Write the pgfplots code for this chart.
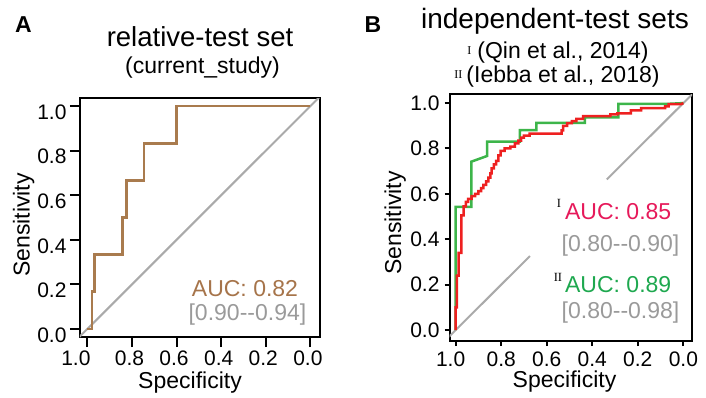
\documentclass[border=0pt]{standalone}
\usepackage{fontspec}
\setmainfont{Liberation Sans}
\newfontfamily\serif{Liberation Serif}
\usepackage{pgfplots}
\pgfplotsset{compat=1.18}
\definecolor{brn}{HTML}{A97B4E}
\definecolor{brntxt}{HTML}{A6744A}
\definecolor{rocred}{HTML}{EE2020}
\definecolor{redtxt}{HTML}{E6195A}
\definecolor{rocgreen}{HTML}{3DB54A}
\definecolor{greentxt}{HTML}{1EA84F}
\definecolor{citxt}{HTML}{9A9A9A}
\definecolor{diag}{HTML}{AAAAAA}
\newcommand{\fs}[1]{\fontsize{#1bp}{#1bp}\selectfont}
\begin{document}
\begin{tikzpicture}
\useasboundingbox (0,0) rectangle (706bp,-398bp);
\pgfplotsset{
  rocaxis/.style={
    scale only axis, x dir=reverse,
    axis line style={line width=2bp, black},
    tick align=outside,
    major tick style={line width=2bp, black},
    xtick={0,0.2,0.4,0.6,0.8,1},
    ytick={0,0.2,0.4,0.6,0.8,1},
    yticklabels={0.0,0.2,0.4,0.6,0.8,1.0},
    xtick pos=bottom, ytick pos=left,
    tick label style={font=\fs{21}},
  }
}
% Panel A
\begin{axis}[rocaxis, at={(80bp,-98bp)}, anchor=north west,
  width=240bp, height=239bp,
  xmin=-0.043, xmax=1.033, ymin=-0.036, ymax=1.036,
  major tick length=10bp,
  xticklabels={0.0,0.2,0.4,0.6,0.8,\hspace*{-18bp}1.0},
  xticklabel style={inner sep=0pt, xshift=-2.5bp, yshift=-3.5bp},
  yticklabel style={yshift=-6bp},
]
\addplot[diag, line width=2bp] coordinates {(1.1,-0.1) (-0.1,1.1)};
\addplot[brn, line width=2.8bp] coordinates {
(1,0) (0.979,0) (0.979,0.167) (0.969,0.167) (0.969,0.333) (0.841,0.333)
(0.841,0.5) (0.826,0.5) (0.826,0.667) (0.746,0.667) (0.746,0.833)
(0.600,0.833) (0.600,1) (0,1)};
\node[anchor=base west, inner sep=0pt, text=brntxt, font=\fs{23}] at (axis cs:0.532,0.145) {AUC: 0.82};
\node[anchor=base west, inner sep=0pt, text=citxt, font=\fs{23}] at (axis cs:0.547,0.037) {[0.90-{}-0.94]};
\end{axis}
% Panel B
\begin{axis}[rocaxis, at={(449.5bp,-94bp)}, anchor=north west,
  width=242.5bp, height=247bp,
  xmin=-0.038, xmax=1.027, ymin=-0.048, ymax=1.04,
  major tick length=5bp,
  xticklabels={0.0,0.2,0.4,0.6,0.8,\hspace*{-10bp}1.0},
  xticklabel style={inner sep=0pt, yshift=-6bp},
  yticklabel style={xshift=-1.5bp},
]
\addplot[diag, line width=2bp] coordinates {(1.1,-0.1) (0.674,0.326)};
\addplot[diag, line width=2bp] coordinates {(0.336,0.664) (-0.1,1.1)};
\addplot[rocgreen, line width=2.5bp] coordinates {
(1,0) (1,0.543) (0.931,0.543) (0.931,0.742) (0.862,0.767) (0.862,0.830)
(0.718,0.830) (0.718,0.881) (0.645,0.881) (0.645,0.913) (0.432,0.913)
(0.432,0.937) (0.285,0.937) (0.285,0.996) (0.079,0.996) (0,1)};
\addplot[rocred, line width=2.5bp] coordinates {
(1,0) (1,0.10) (0.995,0.10) (0.995,0.24) (0.987,0.24) (0.987,0.34)
(0.975,0.34) (0.975,0.505) (0.965,0.505) (0.965,0.545) (0.955,0.545)
(0.955,0.565) (0.945,0.565) (0.945,0.578) (0.93,0.578) (0.93,0.59)
(0.915,0.59) (0.915,0.60) (0.9,0.60) (0.9,0.612) (0.888,0.612)
(0.888,0.625) (0.878,0.625) (0.878,0.64) (0.866,0.64) (0.866,0.655)
(0.856,0.655) (0.856,0.672) (0.848,0.672) (0.848,0.69) (0.842,0.69)
(0.842,0.712) (0.832,0.712) (0.832,0.73) (0.822,0.73) (0.822,0.745)
(0.812,0.745) (0.812,0.77) (0.802,0.77) (0.802,0.79) (0.785,0.79)
(0.785,0.80) (0.76,0.80) (0.76,0.808) (0.74,0.808) (0.74,0.822)
(0.725,0.822) (0.725,0.835) (0.712,0.835) (0.712,0.848) (0.70,0.848)
(0.70,0.857) (0.675,0.857) (0.675,0.866) (0.535,0.866) (0.535,0.88)
(0.528,0.88) (0.528,0.90) (0.51,0.90) (0.51,0.912) (0.49,0.912)
(0.49,0.92) (0.47,0.92) (0.47,0.93) (0.44,0.93) (0.44,0.942)
(0.32,0.942) (0.32,0.95) (0.29,0.95) (0.29,0.955) (0.23,0.955)
(0.23,0.968) (0.185,0.968) (0.185,0.978) (0.08,0.978) (0.08,0.985)
(0.065,0.985) (0.065,0.995) (0.01,0.995) (0,1)};
\node[anchor=base west, inner sep=0pt, text=redtxt, font=\fs{23}] at (axis cs:0.520,0.488)
  {\llap{\raisebox{11.5bp}{\color{black}\serif\fs{12.5}I}\hspace{4bp}}AUC: 0.85};
\node[anchor=base west, inner sep=0pt, text=citxt, font=\fs{23}] at (axis cs:0.535,0.345) {[0.80-{}-0.90]};
\node[anchor=base west, inner sep=0pt, text=greentxt, font=\fs{23}] at (axis cs:0.520,0.164)
  {\llap{\raisebox{11.5bp}{\color{black}\serif\fs{12.5}II}\hspace{3bp}}AUC: 0.89};
\node[anchor=base west, inner sep=0pt, text=citxt, font=\fs{23}] at (axis cs:0.535,0.052) {[0.80-{}-0.98]};
\end{axis}
% Titles and labels
\node[anchor=base west, inner sep=0pt, font=\bfseries\fs{23}] at (15bp,-32bp) {A};
\node[anchor=base west, inner sep=0pt, font=\bfseries\fs{23}] at (364.5bp,-32bp) {B};
\node[anchor=base, inner sep=0pt, font=\fs{27.5}] at (200bp,-46.5bp) {relative-test set};
\node[anchor=base, inner sep=0pt, font=\fs{23}] at (202.5bp,-73.5bp) {(current\_study)};
\node[anchor=base, inner sep=0pt, font=\fs{28}] at (555bp,-28bp) {independent-test sets};
\node[anchor=base, inner sep=0pt, font=\fs{23}] at (558bp,-58.5bp) {\raisebox{4bp}{\serif\fs{12}I}\hspace{6bp}(Qin et al., 2014)};
\node[anchor=base, inner sep=0pt, font=\fs{23}] at (557bp,-82.5bp) {\raisebox{4bp}{\serif\fs{12}II}\hspace{4bp}(Iebba et al., 2018)};
\node[anchor=base, inner sep=0pt, rotate=90, font=\fs{23}] at (29.5bp,-225bp) {Sensitivity};
\node[anchor=base, inner sep=0pt, rotate=90, font=\fs{23}] at (401bp,-223bp) {Sensitivity};
\node[anchor=base, inner sep=0pt, font=\fs{23}] at (190bp,-388.5bp) {Specificity};
\node[anchor=base, inner sep=0pt, font=\fs{23}] at (564.5bp,-387.5bp) {Specificity};
\end{tikzpicture}
\end{document}
